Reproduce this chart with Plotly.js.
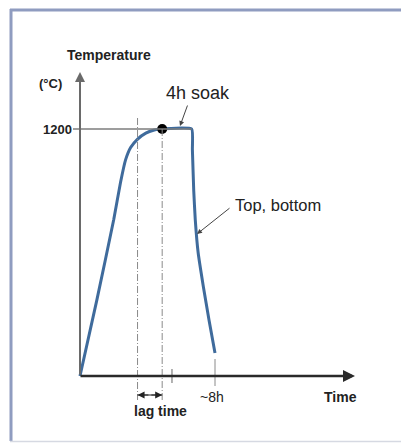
<!DOCTYPE html>
<html><head><meta charset="utf-8">
<script src="https://cdn.plot.ly/plotly-3.0.1.min.js"></script>
<style>html,body{margin:0;padding:0;background:#fff}#c{width:401px;height:443px}</style>
</head><body><div id="c"></div>
<script>
// ---- data ----
const timeH = [0, 1.0, 2.0, 2.4, 2.7, 3.0, 3.4, 3.9, 4.4, 4.74, 6.62, 6.66, 6.74, 6.83, 7.0, 7.31, 7.65, 8.0];
const tempC = [0, 370, 760, 940, 1050, 1110, 1150, 1180, 1195, 1200, 1200, 1100, 900, 760, 600, 434, 270, 112];
const soakLevel = 1200;
const soakPoint = [4.87, 1200];
const lagTimes = [3.41, 4.87];
const endTime = 8.0;
const breakTime = 5.45;
const yTickLabels = ["1200"];
const labels = {yTitle: "Temperature", yUnit: "(°C)", xTitle: "Time", soak: "4h soak", curve: "Top, bottom", lag: "lag time", end: "~8h"};

// ---- geometry: pixel mapping of the schematic ----
const W = 401, H = 443;
const ox = 80, oy = 376;            // origin in px
const pxPerH = 16.875;
const pxPerC = 247 / 1200;
const xr = [-ox / pxPerH, (W - ox) / pxPerH];
const yr = [-(H - oy) / pxPerC, oy / pxPerC];
const X = px => (px - ox) / pxPerH;
const Y = py => (oy - py) / pxPerC;
const PX = px => px / W, PY = py => 1 - py / H;

const FONT = '"Liberation Sans", Arial, Helvetica, sans-serif';
const ink = '#222';

const traces = [
  {x: timeH, y: tempC, mode: 'lines', line: {color: '#3f6b9c', width: 3, shape: 'spline', smoothing: 0.4}, hoverinfo: 'skip'},
  {x: [soakPoint[0]], y: [soakPoint[1]], mode: 'markers', marker: {color: '#000', size: 10}, hoverinfo: 'skip'}
];

const shapes = [
  // frame
  {type: 'line', xref: 'paper', yref: 'paper', x0: PX(10), x1: PX(401), y0: PY(10), y1: PY(10), line: {color: '#8f9cc0', width: 3}},
  {type: 'line', xref: 'paper', yref: 'paper', x0: PX(11), x1: PX(11), y0: PY(9), y1: PY(441), line: {color: '#8f9cc0', width: 3}},
  {type: 'line', xref: 'paper', yref: 'paper', x0: PX(10), x1: PX(401), y0: PY(441.5), y1: PY(441.5), line: {color: '#d6d9e2', width: 1.5}},
  // 1200 reference line
  {type: 'line', x0: X(73), x1: timeH[10], y0: soakLevel, y1: soakLevel, line: {color: '#7d7d7d', width: 1.3}},
  // lag lines
  {type: 'line', x0: lagTimes[0], x1: lagTimes[0], y0: Y(118), y1: Y(400), line: {color: '#8a8a8a', width: 1, dash: '7px,2px,1px,2px'}},
  {type: 'line', x0: lagTimes[1], x1: lagTimes[1], y0: soakLevel, y1: Y(400), line: {color: '#8a8a8a', width: 1, dash: '7px,2px,1px,2px'}},
  // break tick
  {type: 'line', x0: breakTime, x1: breakTime, y0: Y(369), y1: Y(383), line: {color: '#999', width: 1.5}},
  // end tick
  {type: 'line', x0: endTime, x1: endTime, y0: Y(359), y1: Y(386), line: {color: '#8a8a8a', width: 1}},
  // lag arrow shaft
  {type: 'line', x0: lagTimes[0], x1: lagTimes[1], y0: Y(395), y1: Y(395), line: {color: '#222', width: 1}}
];

const lagMid = (lagTimes[0] + lagTimes[1]) / 2;
const annotations = [
  // y axis arrow
  {x: 0, y: Y(72), ax: 0, ay: Y(376), axref: 'x', ayref: 'y', xref: 'x', yref: 'y', showarrow: true, arrowhead: 2, arrowsize: 1, arrowwidth: 2, arrowcolor: '#6a6a6a', text: ''},
  // x axis arrow
  {x: X(355), y: 0, ax: X(79), ay: 0, axref: 'x', ayref: 'y', xref: 'x', yref: 'y', showarrow: true, arrowhead: 2, arrowsize: 1, arrowwidth: 2.4, arrowcolor: '#2a2a2a', text: ''},
  // lag double arrow heads
  {x: lagTimes[1], y: Y(395), ax: lagMid, ay: Y(395), axref: 'x', ayref: 'y', xref: 'x', yref: 'y', showarrow: true, arrowhead: 2, arrowsize: 1.4, arrowwidth: 1, arrowcolor: '#222', text: ''},
  {x: lagTimes[0], y: Y(395), ax: lagMid, ay: Y(395), axref: 'x', ayref: 'y', xref: 'x', yref: 'y', showarrow: true, arrowhead: 2, arrowsize: 1.4, arrowwidth: 1, arrowcolor: '#222', text: ''},
  // 4h soak pointer
  {x: X(180), y: Y(126), ax: 8, ay: -22, xref: 'x', yref: 'y', showarrow: true, arrowhead: 2, arrowsize: 1, arrowwidth: 1, arrowcolor: '#444', text: ''},
  // top bottom pointer
  {x: X(197), y: Y(234), ax: 34, ay: -27, xref: 'x', yref: 'y', showarrow: true, arrowhead: 2, arrowsize: 1, arrowwidth: 1, arrowcolor: '#444', text: ''},
  // texts
  {xref: 'paper', yref: 'paper', x: PX(109), y: PY(55), xanchor: 'center', yanchor: 'middle', text: '<b>' + labels.yTitle + '</b>', showarrow: false, font: {family: FONT, size: 14, color: ink}},
  {xref: 'paper', yref: 'paper', x: PX(50), y: PY(83), xanchor: 'center', yanchor: 'middle', text: '<b>' + labels.yUnit + '</b>', showarrow: false, font: {family: FONT, size: 13, color: ink}},
  {xref: 'paper', yref: 'paper', x: PX(198), y: PY(93), xanchor: 'center', yanchor: 'middle', text: labels.soak, showarrow: false, font: {family: FONT, size: 18, color: ink}},
  {xref: 'paper', x: PX(74), y: soakLevel, yref: 'y', xanchor: 'right', yanchor: 'middle', text: '<b>' + yTickLabels[0] + '</b>', showarrow: false, font: {family: FONT, size: 13, color: ink}},
  {xref: 'paper', yref: 'paper', x: PX(278), y: PY(205), xanchor: 'center', yanchor: 'middle', text: labels.curve, showarrow: false, font: {family: FONT, size: 16.5, color: ink}},
  {xref: 'paper', yref: 'paper', x: PX(160), y: PY(411), xanchor: 'center', yanchor: 'middle', text: '<b>' + labels.lag + '</b>', showarrow: false, font: {family: FONT, size: 14, color: ink}},
  {xref: 'paper', yref: 'paper', x: PX(212), y: PY(397), xanchor: 'center', yanchor: 'middle', text: labels.end, showarrow: false, font: {family: FONT, size: 14, color: ink}},
  {xref: 'paper', yref: 'paper', x: PX(340), y: PY(397), xanchor: 'center', yanchor: 'middle', text: '<b>' + labels.xTitle + '</b>', showarrow: false, font: {family: FONT, size: 14, color: ink}}
];

const layout = {
  width: W, height: H,
  margin: {l: 0, r: 0, t: 0, b: 0},
  paper_bgcolor: '#fff', plot_bgcolor: '#fff',
  showlegend: false,
  xaxis: {range: xr, visible: false, fixedrange: true},
  yaxis: {range: yr, visible: false, fixedrange: true},
  shapes: shapes,
  annotations: annotations
};

Plotly.newPlot('c', traces, layout, {staticPlot: true, displayModeBar: false});
</script></body></html>
